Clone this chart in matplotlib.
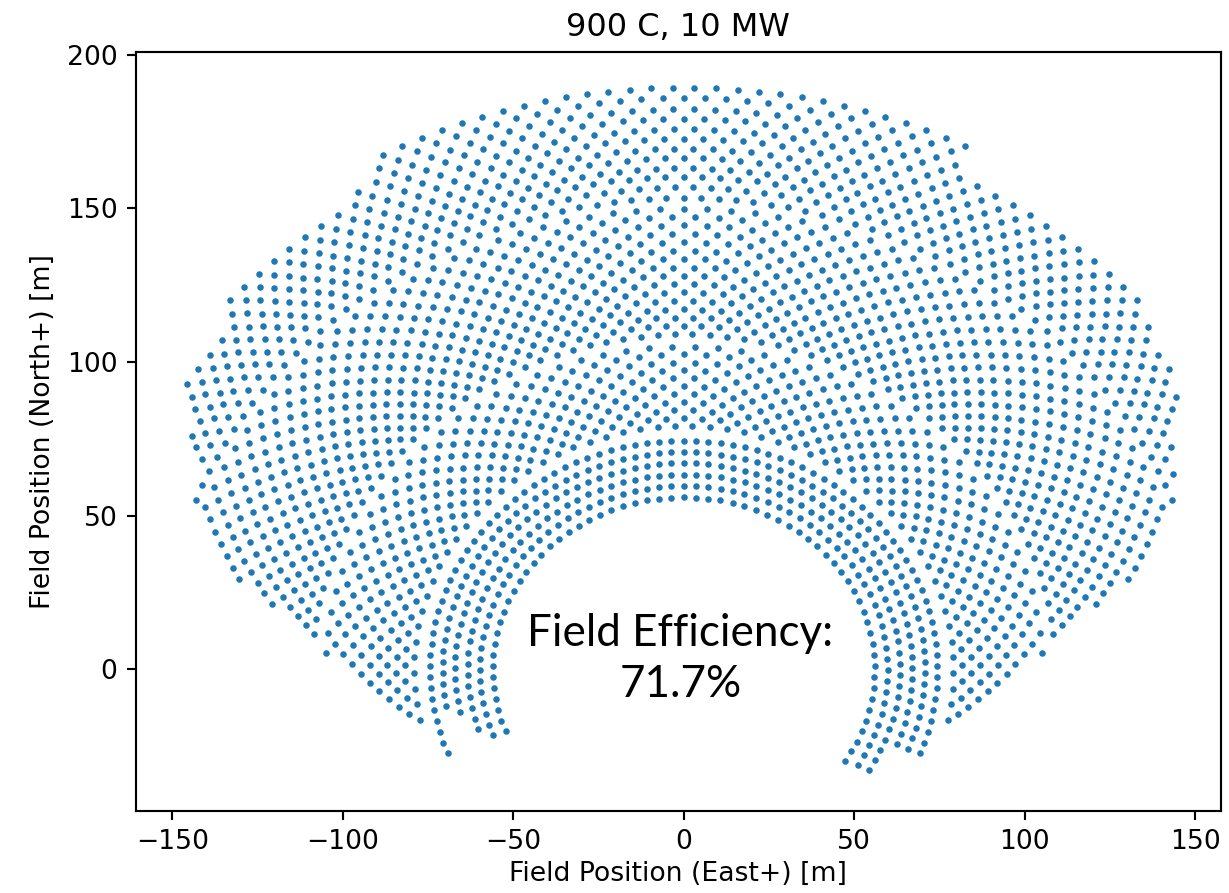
import numpy as np
import matplotlib
matplotlib.use("Agg")
import matplotlib.pyplot as plt

# ---- heliostat rings (radius in m, azimuth in deg from north, east +) ----
# outer zone
z1_radius = [153.4, 156.9, 160.2, 163.1, 166.4, 169.4, 172.7, 175.9, 179.2, 182.4, 185.9, 189.3]
z1_offset = [0, .5, 0, .5, 0, .5, 0, .5, 0, .5, 0, .5]
z1_left = [-69.0, -65.0, -63.5, -62.6, -60.5, -58.8, -57.7, -50.0, -48.1, -31.7, -28.9, -27.8]
z1_right = [69.3, 66.2, 63.6, 61.6, 59.6, 57.9, 56.0, 52.0, 48.0, 26.0, 25.0, 25.9]
z1_step = 1.915

# middle zone
z2_radius = [109.0, 111.8, 114.5, 117.2, 119.9, 122.7, 125.4, 128.1, 130.8, 133.6,
             136.3, 139.0, 141.7, 144.5, 147.2, 149.9]
z2_offset = [.5, 0, .5, 0, .5, 0, .5, 0, .5, 0, .5, 0, .5, 0, .5, 0]
z2_limit = [85.4, 84.0, 82.7, 81.4, 80.2, 80.0, 79.8, 78.5, 77.0, 77.0,
            76.8, 75.6, 74.5, 73.1, 71.8, 70.3]
z2_step = 2.666

# inner staggered zone
z3_radius = [79.1, 81.7, 84.3, 86.9, 89.5, 92.1, 94.7, 97.3, 99.9, 102.5, 105.1]
z3_offset = [.5, 0, .5, 0, .5, 0, .5, 0, .5, 0, .5]
z3_limit = [101.6, 99.9, 98.2, 96.5, 94.8, 92.8, 90.8, 88.8, 87.5, 87.0, 86.9]
z3_step = 3.71

# innermost rings (constant spacing along the ring, m)
z4_radius = [56.0, 59.8, 63.4, 67.1, 70.7, 74.4]
z4_left = [-111.5, -111.0, -110.0, -103.0, -100.0, -110.7]
z4_right = [122.7, 121.7, 123.2, 111.9, 112.0, 110.8]
z4_arc = 3.62

title = "900 C, 10 MW"
xlabel = "Field Position (East+) [m]"
ylabel = "Field Position (North+) [m]"
note = "Field Efficiency:\n71.7%"


def ring(r, step, off, lo, hi):
    tol = 0.3 * step
    k = np.arange(int(np.floor(lo / step)) - 2, int(np.ceil(hi / step)) + 3)
    az = (k + off) * step
    az = az[(az >= lo - tol) & (az <= hi + tol)]
    a = np.radians(az)
    return r * np.sin(a), r * np.cos(a)


xs, ys = [], []
for r, o, lo, hi in zip(z1_radius, z1_offset, z1_left, z1_right):
    x, y = ring(r, z1_step, o, lo, hi); xs.append(x); ys.append(y)
for r, o, lim in zip(z2_radius, z2_offset, z2_limit):
    x, y = ring(r, z2_step, o, -lim, lim); xs.append(x); ys.append(y)
for r, o, lim in zip(z3_radius, z3_offset, z3_limit):
    x, y = ring(r, z3_step, o, -lim, lim); xs.append(x); ys.append(y)
for r, lo, hi in zip(z4_radius, z4_left, z4_right):
    step = np.degrees(z4_arc / r)
    x, y = ring(r, step, 0.0, lo, hi); xs.append(x); ys.append(y)
xs = np.concatenate(xs)
ys = np.concatenate(ys)

fig = plt.figure(figsize=(1229 / 192, 893 / 192), dpi=192)
ax = fig.add_axes([0.1107, 0.0922, 0.8826, 0.8492])
ax.scatter(xs, ys, s=6, linewidths=0, color="#1f77b4")
ax.set_xlim(-160.6, 157.5)
ax.set_ylim(-46.0, 200.8)
ax.set_title(title)
ax.set_xlabel(xlabel, labelpad=2)
ax.set_ylabel(ylabel)
ax.text(-1, 3.4, note, ha="center", va="center", multialignment="center",
        fontsize=16.5, family=["Lato", "DejaVu Sans"], linespacing=1.3)
fig.savefig("out.png", dpi=192)
